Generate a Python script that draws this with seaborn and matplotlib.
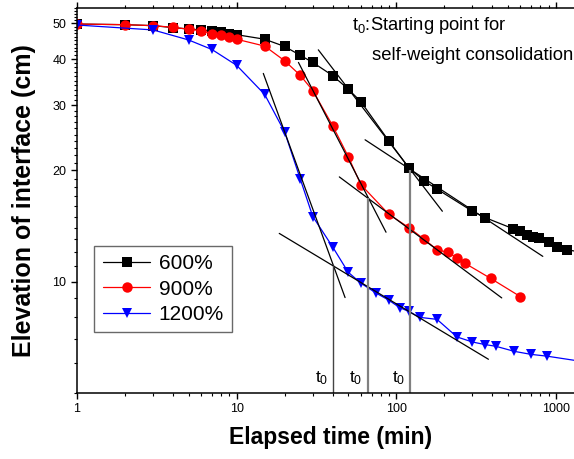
import numpy as np
import pandas as pd
import seaborn as sns
import matplotlib
matplotlib.use('Agg')
import matplotlib.pyplot as plt
from matplotlib.ticker import FixedLocator, NullFormatter, FixedFormatter

# settling curves
black_t = [1, 2, 3, 4, 5, 6, 7, 8, 9, 10, 15, 20, 25, 30, 40, 50, 60, 90, 120, 150, 180,
           300, 360, 540, 600, 660, 720, 780, 900, 1020, 1170, 1440]
black_h = [49.8, 49.6, 49.3, 48.7, 48.3, 48.0, 47.7, 47.3, 46.9, 46.6, 45.3, 43.3, 41.0, 39.2,
           36.1, 33.2, 30.7, 24.0, 20.3, 18.7, 17.8, 15.5, 14.9, 13.9, 13.7, 13.4, 13.2, 13.1,
           12.8, 12.4, 12.2, 12.0]

red_t = [1, 2, 3, 4, 5, 6, 7, 8, 9, 10, 15, 20, 25, 30, 40, 50, 60, 90, 120, 150, 180, 210,
         240, 270, 390, 600]
red_h = [49.8, 49.6, 49.3, 48.8, 48.2, 47.8, 46.9, 46.6, 46.0, 45.3, 43.4, 39.6, 36.2, 32.9,
         26.4, 21.8, 18.3, 15.2, 14.0, 13.0, 12.2, 12.0, 11.6, 11.2, 10.2, 9.1]

blue_t = [1, 3, 5, 7, 10, 15, 20, 25, 30, 40, 50, 60, 75, 90, 105, 120, 140, 180, 240, 300,
          360, 420, 550, 700, 880, 1440]
blue_h = [49.5, 48.0, 45.1, 42.5, 38.5, 32.1, 25.4, 19.0, 15.0, 12.4, 10.6, 9.9, 9.3, 8.9,
          8.5, 8.3, 8.0, 7.9, 7.08, 6.86, 6.75, 6.68, 6.47, 6.35, 6.28, 6.08]

labels = ['600%', '900%', '1200%']

# tangent lines (start/end points) and t0 construction
tangent_x = [(14.7, 47.8), (18.5, 378), (24.4, 86.3), (44.0, 458), (32.5, 194.5), (63.8, 828)]
tangent_y = [(36.6, 9.05), (13.5, 6.16), (39.2, 13.6), (19.2, 9.03), (42.4, 15.5), (24.2, 11.7)]
t0_x = [40.3, 66.3, 122]
t0_y = [11.07, 16.8, 20.1]

df = pd.concat([
    pd.DataFrame({'t': black_t, 'h': black_h, 'c': labels[0]}),
    pd.DataFrame({'t': red_t, 'h': red_h, 'c': labels[1]}),
    pd.DataFrame({'t': blue_t, 'h': blue_h, 'c': labels[2]}),
])

sns.set_style('ticks')
plt.rcParams['font.family'] = ['Liberation Sans', 'DejaVu Sans']
plt.rcParams['mathtext.fontset'] = 'custom'
plt.rcParams['mathtext.rm'] = 'Liberation Sans'
plt.rcParams['mathtext.it'] = 'Liberation Sans:italic'
plt.rcParams['mathtext.default'] = 'regular'
plt.rcParams['text.color'] = 'black'
plt.rcParams['axes.labelcolor'] = 'black'

fig = plt.figure(figsize=(5.74, 4.59), dpi=100)
ax = fig.add_axes([0.1341, 0.1444, 0.8833, 0.8392])

palette = {'600%': 'black', '900%': '#ff0000', '1200%': '#0000ff'}
markers = {'600%': 's', '900%': 'o', '1200%': 'v'}
sns.lineplot(data=df, x='t', y='h', hue='c', style='c', palette=palette, markers=markers,
             dashes=False, sort=False, estimator=None, linewidth=0.9, markersize=7.5,
             markeredgewidth=0, ax=ax, legend=False)

for xs, ys in zip(tangent_x, tangent_y):
    ax.plot(xs, ys, color='black', lw=0.9)

ax.vlines(t0_x[0], 5, t0_y[0], color='#444444', lw=1.0)
ax.vlines(t0_x[1:], 5, t0_y[1:], color='#808080', lw=1.6)
for x in t0_x:
    ax.text(x * 0.93, 5.33, 't$_0$', ha='right', va='baseline', fontsize=12.5)

ax.text(52.6, 48.0, 't$_0$:Starting point for', fontsize=13.2, va='baseline')
ax.text(70.2, 39.8, 'self-weight consolidation', fontsize=13.3, va='baseline')

ax.set_xscale('log')
ax.set_yscale('log')
ax.set_xlim(1, 1500)
ax.set_ylim(5, 55.2)

ax.yaxis.set_major_locator(FixedLocator([10, 20, 30, 40, 50]))
ax.yaxis.set_major_formatter(FixedFormatter(['10', '20', '30', '40', '50']))
ax.yaxis.set_minor_locator(FixedLocator([5, 6, 7, 8, 9] + [v for v in range(11, 56) if v % 10]))
ax.yaxis.set_minor_formatter(NullFormatter())
ax.xaxis.set_major_formatter(FixedFormatter(['1', '10', '100', '1000']))
ax.xaxis.set_major_locator(FixedLocator([1, 10, 100, 1000]))

for s in ax.spines.values():
    s.set_linewidth(1.1)
    s.set_color('black')
ax.tick_params(which='both', direction='out', top=True, right=False, labelsize=9,
               colors='black', labelcolor='black')
ax.tick_params(which='major', length=4, width=1)
ax.tick_params(which='minor', length=2.2, width=0.8)

ax.set_xlabel('Elapsed time (min)', fontsize=16.5, fontweight='bold', labelpad=8)
ax.set_ylabel('Elevation of interface (cm)', fontsize=18, fontweight='bold', labelpad=12)

handles = [plt.Line2D([], [], color=palette[l], marker=markers[l], lw=0.9, markersize=7.5,
                      markeredgewidth=0) for l in labels]
leg = ax.legend(handles, labels, loc='upper left', bbox_to_anchor=(0.034, 0.381),
                borderaxespad=0, fontsize=15, frameon=True, fancybox=False,
                handlelength=2.3, handletextpad=0.4, labelspacing=0.3, borderpad=0.4)
leg.get_frame().set_edgecolor('#444444')
leg.get_frame().set_linewidth(1.0)
for t in leg.get_texts():
    t.set_color('black')

fig.savefig('out.png', dpi=100)
